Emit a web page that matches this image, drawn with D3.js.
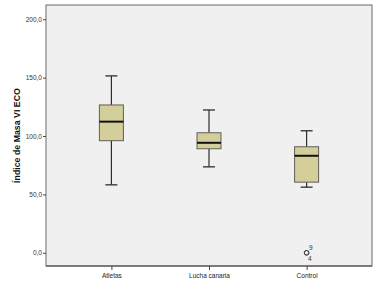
<!DOCTYPE html>
<html>
<head>
<meta charset="utf-8">
<script src="https://cdn.jsdelivr.net/npm/d3@7"></script>
<style>
  body { margin: 0; background: #fff; }
  svg { display: block; font-family: "Liberation Sans", Arial, sans-serif; }
</style>
</head>
<body>
<div id="chart"></div>
<script>
// data
const categories = ["Atletas", "Lucha canaria", "Control"];
const whiskerLow = [58.2, 73.6, 56.2];
const q1 = [96.0, 89.1, 60.5];
const median = [112.3, 94.2, 83.1];
const q3 = [126.6, 102.8, 90.8];
const whiskerHigh = [151.5, 122.3, 104.5];
const outlierGroup = ["Control", "Control"];
const outlierValues = [0, 0];
const outlierIds = ["9", "4"];
const yTicks = [0, 50, 100, 150, 200];

const boxes = categories.map((c, i) => ({
    name: c, lo: whiskerLow[i], q1: q1[i], med: median[i], q3: q3[i], hi: whiskerHigh[i]
}));

const W = 378, H = 304;
const margin = { top: 5, right: 6, bottom: 38, left: 46 };
const width = W - margin.left - margin.right,
    height = H - margin.top - margin.bottom;

const svg = d3.select("#chart").append("svg")
    .attr("width", W)
    .attr("height", H);

const g = svg.append("g")
    .attr("transform", `translate(${margin.left}, ${margin.top})`);

// plot background
g.append("rect")
    .attr("width", width)
    .attr("height", height)
    .attr("fill", "#f0f0f0")
    .attr("stroke", "#6b6b6b")
    .attr("stroke-width", 1);

const xScale = d3.scalePoint()
    .domain(categories)
    .range([0, width])
    .padding(0.67);

const yScale = d3.scaleLinear()
    .domain([-11.3, 212.2])
    .range([height, 0]);

// y axis
const yAxis = g.append("g")
    .call(d3.axisLeft(yScale)
        .tickValues(yTicks)
        .tickSize(3)
        .tickFormat(d => d3.format(".1f")(d).replace(".", ",")));
yAxis.select(".domain").remove();
yAxis.selectAll("line").attr("stroke", "#444");
yAxis.selectAll("text")
    .attr("x", -4)
    .style("font-size", "6.5px")
    .attr("fill", "#333");

// x axis
const xAxis = g.append("g")
    .attr("transform", `translate(0, ${height})`)
    .call(d3.axisBottom(xScale).tickSize(4));
xAxis.select(".domain").remove();
xAxis.selectAll("line").attr("stroke", "#444");
xAxis.selectAll("text")
    .attr("y", 7)
    .style("font-size", "6.5px")
    .attr("fill", "#222");

// bottom line a bit darker
g.append("line")
    .attr("x1", 0).attr("x2", width)
    .attr("y1", height).attr("y2", height)
    .attr("stroke", "#444");

// y title
g.append("text")
    .attr("transform", "rotate(-90)")
    .attr("x", -height / 2)
    .attr("y", 19.5 - margin.left)
    .attr("text-anchor", "middle")
    .style("font-size", "8.8px")
    .style("font-weight", 700)
    .attr("fill", "#111")
    .text("Índice de Masa VI ECO");

const boxW = 24, capW = 12;

const bg = g.selectAll(".box")
    .data(boxes)
    .enter()
    .append("g")
    .attr("class", "box")
    .attr("transform", d => `translate(${xScale(d.name)}, 0)`);

// whiskers
bg.append("line")
    .attr("x1", 0).attr("x2", 0)
    .attr("y1", d => yScale(d.hi))
    .attr("y2", d => yScale(d.q3))
    .attr("stroke", "#2e2e2e").attr("stroke-width", 1.2);
bg.append("line")
    .attr("x1", 0).attr("x2", 0)
    .attr("y1", d => yScale(d.q1))
    .attr("y2", d => yScale(d.lo))
    .attr("stroke", "#2e2e2e").attr("stroke-width", 1.2);
bg.append("line")
    .attr("x1", -capW / 2).attr("x2", capW / 2)
    .attr("y1", d => yScale(d.hi))
    .attr("y2", d => yScale(d.hi))
    .attr("stroke", "#2e2e2e").attr("stroke-width", 1.3);
bg.append("line")
    .attr("x1", -capW / 2).attr("x2", capW / 2)
    .attr("y1", d => yScale(d.lo))
    .attr("y2", d => yScale(d.lo))
    .attr("stroke", "#2e2e2e").attr("stroke-width", 1.3);

// box
bg.append("rect")
    .attr("x", -boxW / 2)
    .attr("width", boxW)
    .attr("y", d => yScale(d.q3))
    .attr("height", d => yScale(d.q1) - yScale(d.q3))
    .attr("fill", "#d4cf9a")
    .attr("stroke", "#5e5e58")
    .attr("stroke-width", 1);

// median
bg.append("line")
    .attr("x1", -boxW / 2).attr("x2", boxW / 2)
    .attr("y1", d => yScale(d.med))
    .attr("y2", d => yScale(d.med))
    .attr("stroke", "#111").attr("stroke-width", 2);

// outliers
const outliers = outlierValues.map((v, i) => ({ group: outlierGroup[i], v: v, id: outlierIds[i] }));

g.selectAll(".outlier")
    .data(outliers)
    .enter()
    .append("circle")
    .attr("class", "outlier")
    .attr("cx", d => xScale(d.group))
    .attr("cy", d => yScale(d.v))
    .attr("r", 2.3)
    .attr("fill", "none")
    .attr("stroke", "#444")
    .attr("stroke-width", 1);

// case labels: first one up-right, second one down-right
g.selectAll(".olabel")
    .data(outliers)
    .enter()
    .append("text")
    .attr("class", "olabel")
    .attr("x", (d, i) => xScale(d.group) + (i === 0 ? 2.5 : 1.5))
    .attr("y", (d, i) => yScale(d.v) + (i === 0 ? -3 : 8.5))
    .style("font-size", "6.5px")
    .attr("fill", "#333")
    .text(d => d.id);
</script>
</body>
</html>
